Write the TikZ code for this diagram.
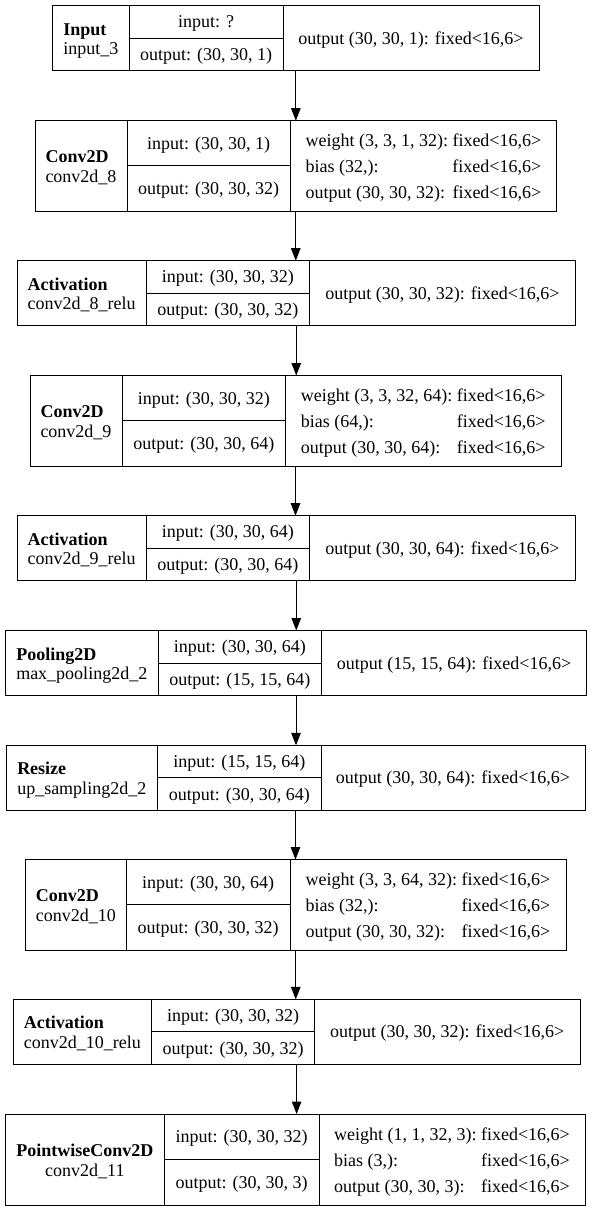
\documentclass[tikz,border=0pt]{standalone}
\usepackage{fontspec}
\setmainfont{Liberation Serif}
\usetikzlibrary{arrows.meta}

% geometry of one layer record: name, left, divider 1, divider 2, right, top, bottom
\newcommand\layer[7]{%
  \pgfmathsetmacro\Lx{#2}\pgfmathsetmacro\Da{#3}\pgfmathsetmacro\Db{#4}%
  \pgfmathsetmacro\Rx{#5}\pgfmathsetmacro\Ty{#6}\pgfmathsetmacro\By{#7}%
  \pgfmathsetmacro\Cy{(#6+#7)/2}%
  \node[layerbox, minimum width={#5-#2}, minimum height={#7-#6}] (#1) at ({(#2+#5)/2},\Cy) {};
  \draw[divider] (\Da,\Ty) -- (\Da,\By) (\Db,\Ty) -- (\Db,\By) (\Da,\Cy) -- (\Db,\Cy);
}
% class and instance name, lines left aligned
\newcommand\layername[3]{%
  \node[anchor=base] (#1) at ({(\Lx+\Da)/2},{\Cy-3}) {\begin{tabular}[t]{@{}l@{}}\textbf{#2}\\#3\end{tabular}};}
% same, lines centred
\newcommand\layernamec[3]{%
  \node[anchor=base] (#1) at ({(\Lx+\Da)/2},{\Cy-3}) {\begin{tabular}[t]{@{}c@{}}\textbf{#2}\\#3\end{tabular}};}
% input / output shapes in the middle column
\newcommand\layerio[4]{%
  \node[anchor=base] (#1) at ({(\Da+\Db)/2},{(\Ty+\Cy)/2+6}) {#3};
  \node[anchor=base] (#2) at ({(\Da+\Db)/2},{(\Cy+\By)/2+6}) {#4};}
% single output line in the right column
\newcommand\layerout[2]{%
  \node[anchor=base] (#1) at ({(\Db+\Rx)/2},{\Cy+6}) {#2};}
% weight / bias / output table in the right column
\newcommand\layerparams[4]{%
  \node[anchor=base, font=\fontsize{18}{26}\selectfont] (#1) at ({(\Db+\Rx)/2},{\Cy-19})
    {\begin{tabular}[t]{@{}l@{\hspace{4.5pt}}l@{}}#2\\#3\\#4\end{tabular}};}

\begin{document}
\begin{tikzpicture}[x=1pt, y=-1pt,
  every node/.style={inner sep=0pt, outer sep=0pt, font=\fontsize{18}{19.5}\selectfont},
  layerbox/.style={draw=black, line width=1pt, rectangle},
  divider/.style={draw=black, line width=1pt},
  edge/.style={draw=black, line width=1pt, -{Triangle[length=12.5pt, width=9.5pt]}}]

\path[fill=white] (0,0) rectangle (592,1211);
\useasboundingbox (0,0) rectangle (592,1211);

\layer{b1}{52.7}{129}{283}{539}{5.7}{70.7}
\layername{b1n}{Input}{input\_3}
\layerio{b1i}{b1o}{input: ?}{output: (30, 30, 1)}
\layerout{b1r}{output (30, 30, 1): fixed<16,6>}

\layer{b2}{35}{127}{290.3}{556.5}{120.7}{211}
\layername{b2n}{Conv2D}{conv2d\_8}
\layerio{b2i}{b2o}{input: (30, 30, 1)}{output: (30, 30, 32)}
\layerparams{b2r}{weight (3, 3, 1, 32): & fixed<16,6>}{bias (32,): & fixed<16,6>}{output (30, 30, 32): & fixed<16,6>}

\layer{b3}{17}{146.4}{309.4}{575.5}{260.7}{325.7}
\layername{b3n}{Activation}{conv2d\_8\_relu}
\layerio{b3i}{b3o}{input: (30, 30, 32)}{output: (30, 30, 32)}
\layerout{b3r}{output (30, 30, 32): fixed<16,6>}

\layer{b4}{30}{122}{285.5}{561}{375.5}{466}
\layername{b4n}{Conv2D}{conv2d\_9}
\layerio{b4i}{b4o}{input: (30, 30, 32)}{output: (30, 30, 64)}
\layerparams{b4r}{weight (3, 3, 32, 64): & fixed<16,6>}{bias (64,): & fixed<16,6>}{output (30, 30, 64): & fixed<16,6>}

\layer{b5}{17}{146.4}{309.4}{575.5}{515.7}{580.7}
\layername{b5n}{Activation}{conv2d\_9\_relu}
\layerio{b5i}{b5o}{input: (30, 30, 64)}{output: (30, 30, 64)}
\layerout{b5r}{output (30, 30, 64): fixed<16,6>}

\layer{b6}{5.5}{158}{321.5}{586.5}{630.5}{695.5}
\layername{b6n}{Pooling2D}{max\_pooling2d\_2}
\layerio{b6i}{b6o}{input: (30, 30, 64)}{output: (15, 15, 64)}
\layerout{b6r}{output (15, 15, 64): fixed<16,6>}

\layer{b7}{6}{157.5}{321}{585}{745.3}{810.3}
\layername{b7n}{Resize}{up\_sampling2d\_2}
\layerio{b7i}{b7o}{input: (15, 15, 64)}{output: (30, 30, 64)}
\layerout{b7r}{output (30, 30, 64): fixed<16,6>}

\layer{b8}{25.5}{126.2}{290}{566}{859.5}{950}
\layername{b8n}{Conv2D}{conv2d\_10}
\layerio{b8i}{b8o}{input: (30, 30, 64)}{output: (30, 30, 32)}
\layerparams{b8r}{weight (3, 3, 64, 32): & fixed<16,6>}{bias (32,): & fixed<16,6>}{output (30, 30, 32): & fixed<16,6>}

\layer{b9}{13.2}{151.6}{314.5}{580}{999.4}{1064.4}
\layername{b9n}{Activation}{conv2d\_10\_relu}
\layerio{b9i}{b9o}{input: (30, 30, 32)}{output: (30, 30, 32)}
\layerout{b9r}{output (30, 30, 32): fixed<16,6>}

\layer{b10}{5.7}{164}{319}{585}{1114}{1205}
\layernamec{b10n}{PointwiseConv2D}{conv2d\_11}
\layerio{b10i}{b10o}{input: (30, 30, 32)}{output: (30, 30, 3)}
\layerparams{b10r}{weight (1, 1, 32, 3): & fixed<16,6>}{bias (3,): & fixed<16,6>}{output (30, 30, 3): & fixed<16,6>}

% data flow between consecutive layers
\foreach \a/\b in {b1/b2, b2/b3, b3/b4, b4/b5, b5/b6, b6/b7, b7/b8, b8/b9, b9/b10}
  \draw[edge] (\a.south) -- (\a.south |- \b.north);

\end{tikzpicture}
\end{document}
